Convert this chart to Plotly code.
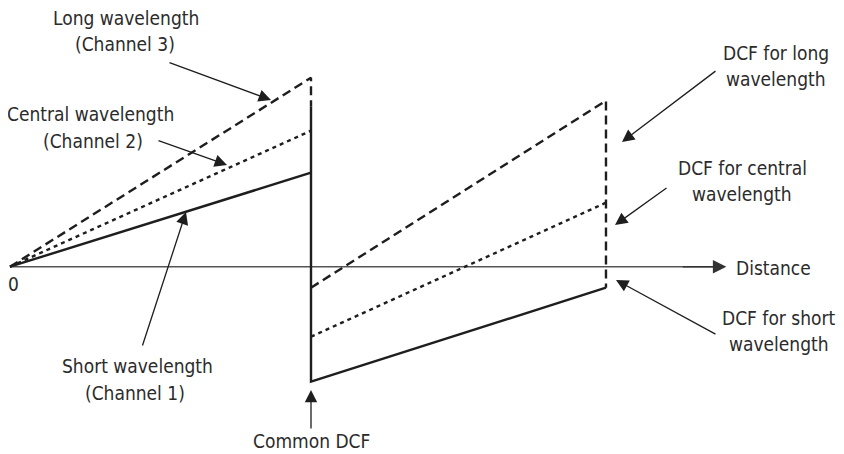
import plotly.graph_objects as go

# Distance along the link (fiber span ends at 10, DCF ends at 19.8)
span_x = [0, 10]
dcf_x = [10, 19.8]
axis_end = 23.8

# Accumulated dispersion per channel
long_span = [0, 18.9]
central_span = [0, 13.6]
short_span = [0, 9.4]
long_dcf = [-2.1, 16.6]
central_dcf = [-7.0, 6.4]
short_dcf = [-11.5, -2.1]
common_top = 16.0

INK = "#1e1e1e"
TXT = "#2b2b2b"
FONT = "DejaVu Sans Condensed, DejaVu Sans"
W, H = 844, 454
PAD = 8  # page body margin of the html

# window pixel -> data helpers
X0, XS = 10, 30.1
Y0, YS = 266.7, 10.0


def dx(px):
    return (px - X0) / XS


def dy(py):
    return (Y0 - py) / YS


fig = go.Figure()

# horizontal axis
fig.add_trace(go.Scatter(x=[0, axis_end - 0.3], y=[0, 0], mode="lines",
                         line=dict(color="#555", width=1.6), hoverinfo="skip"))

# long wavelength (dashed)
fig.add_trace(go.Scatter(
    x=span_x + [span_x[1]], y=long_span + [common_top], mode="lines",
    line=dict(color=INK, width=2.4, dash="9px,5px")))
fig.add_trace(go.Scatter(
    x=dcf_x + [dcf_x[1]], y=long_dcf + [short_dcf[1]], mode="lines",
    line=dict(color=INK, width=2.4, dash="9px,5px")))

# central wavelength (dotted)
fig.add_trace(go.Scatter(x=span_x, y=central_span, mode="lines",
                         line=dict(color=INK, width=2.4, dash="4px,4px")))
fig.add_trace(go.Scatter(x=dcf_x, y=central_dcf, mode="lines",
                         line=dict(color=INK, width=2.4, dash="4px,4px")))

# short wavelength + common DCF (solid)
fig.add_trace(go.Scatter(x=span_x, y=short_span, mode="lines",
                         line=dict(color=INK, width=2.4)))
fig.add_trace(go.Scatter(
    x=[span_x[1], dcf_x[0]] + dcf_x,
    y=[common_top, short_dcf[0]] + short_dcf, mode="lines",
    line=dict(color=INK, width=2.4)))

# axis arrowhead
fig.add_annotation(x=axis_end, y=0, ax=axis_end - 1.5, ay=0,
                   xref="x", yref="y", axref="x", ayref="y", text="",
                   showarrow=True, arrowhead=2, arrowsize=1.8, arrowwidth=1.5,
                   arrowcolor="#333", standoff=0)

# pointer arrows: (tail px, tail py, tip px, tip py)
arrows = [
    (168, 62, 271, 100),
    (157, 140, 227, 165),
    (142, 347, 186, 212),
    (311, 430, 311, 390),
    (717, 70, 622, 142),
    (668, 187, 615, 225),
    (717, 335, 616, 280),
]
for tx, ty, hx, hy in arrows:
    fig.add_annotation(x=dx(hx), y=dy(hy), ax=dx(tx), ay=dy(ty),
                       xref="x", yref="y", axref="x", ayref="y", text="",
                       showarrow=True, arrowhead=2, arrowsize=1.9,
                       arrowwidth=1.3, arrowcolor=INK, standoff=0)

# labels: (centre px, centre py, text)
labels = [
    (126, 18, "Long wavelength"),
    (125, 44, "(Channel 3)"),
    (90, 114, "Central wavelength"),
    (93, 141, "(Channel 2)"),
    (137, 366, "Short wavelength"),
    (135, 393, "(Channel 1)"),
    (311, 441, "Common DCF"),
    (776, 53, "DCF for long"),
    (776, 79, "wavelength"),
    (742, 168, "DCF for central"),
    (742, 194, "wavelength"),
    (779, 318, "DCF for short"),
    (779, 344, "wavelength"),
    (773, 268, "Distance"),
    (13, 284, "0"),
]
for px, py, t in labels:
    fig.add_annotation(x=dx(px), y=dy(py), xref="x", yref="y", text=t,
                       showarrow=False, font=dict(family=FONT, size=19, color=TXT))

fig.update_layout(
    width=W - PAD, height=H - PAD, margin=dict(l=0, r=0, t=0, b=0),
    paper_bgcolor="white", plot_bgcolor="white", showlegend=False,
    xaxis=dict(range=[dx(PAD), dx(W)], visible=False, fixedrange=True),
    yaxis=dict(range=[dy(H), dy(PAD)], visible=False, fixedrange=True),
)
fig.write_html("out.html")
